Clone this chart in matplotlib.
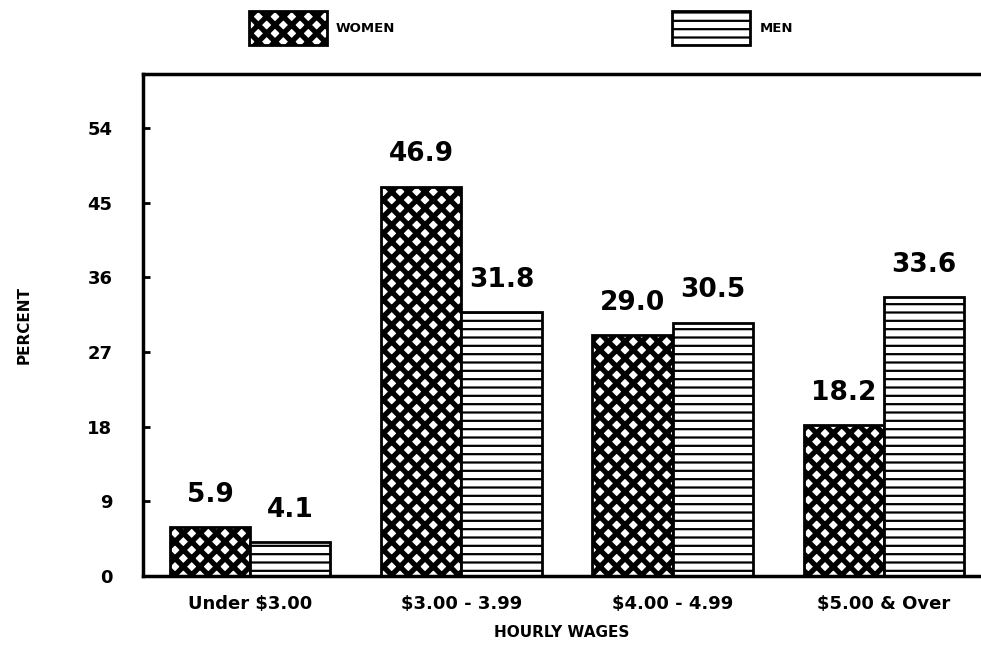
import numpy as np
import matplotlib
matplotlib.use("Agg")
import matplotlib.pyplot as plt

# Data
categories = ["Under $3.00", "$3.00 - 3.99", "$4.00 - 4.99", "$5.00 & Over"]
women = [5.9, 46.9, 29.0, 18.2]
men = [4.1, 31.8, 30.5, 33.6]
yticks = [0, 9, 18, 27, 36, 45, 54]

plt.rcParams['font.family'] = ['DejaVu Sans']
plt.rcParams['font.weight'] = 'bold'

fig = plt.figure(figsize=(9.81, 6.65), dpi=100)
ax = fig.add_axes([0.1458, 0.1338, 0.8542, 0.7549])

x = np.arange(len(categories))
w = 0.38

# women: heavy cross hatch, men: horizontal lines
plt.rcParams['hatch.linewidth'] = 3.8
b_w = ax.bar(x - w / 2, women, w, color='white', edgecolor='black',
             linewidth=2, hatch='xx', label='WOMEN')
plt.rcParams['hatch.linewidth'] = 1.6
b_m = ax.bar(x + w / 2, men, w, color='white', edgecolor='black',
             linewidth=2, hatch='--', label='MEN')

for bars, vals in ((b_w, women), (b_m, men)):
    for bar, v in zip(bars, vals):
        ax.annotate(f"{v:.1f}", (bar.get_x() + bar.get_width() / 2, v),
                    xytext=(0, 14), textcoords='offset points',
                    ha='center', va='bottom', fontsize=19, fontweight='bold')

ax.set_xlim(-0.507, 3.46)
ax.set_ylim(0, 60.5)
ax.set_yticks(yticks)
ax.set_yticklabels([str(t) for t in yticks], fontsize=13, fontweight='bold')
ax.set_xticks(x)
ax.set_xticklabels(categories, fontsize=13, fontweight='bold')
ax.tick_params(axis='y', direction='in', length=5, width=2, pad=22)
ax.tick_params(axis='x', length=0, pad=14)

ax.spines['right'].set_visible(False)
for s in ('left', 'top', 'bottom'):
    ax.spines[s].set_linewidth(2.5)

ax.set_ylabel('PERCENT', fontsize=11, fontweight='bold', labelpad=40)
ax.set_xlabel('HOURLY WAGES', fontsize=11, fontweight='bold', labelpad=8)

leg = fig.legend(handles=[b_w, b_m], loc='upper left',
                 bbox_to_anchor=(0.2426, 1.0), ncol=2, frameon=False,
                 fontsize=9.5, handlelength=5.9, handleheight=3.6,
                 columnspacing=21, handletextpad=0.7, borderaxespad=0.42)
# legend patches take the current rc hatch width, so set them again
h_w, h_m = leg.legend_handles
if hasattr(h_w, 'set_hatch_linewidth'):
    h_w.set_hatch_linewidth(3.8)
    h_m.set_hatch_linewidth(1.6)

fig.savefig("out.png", dpi=100)
